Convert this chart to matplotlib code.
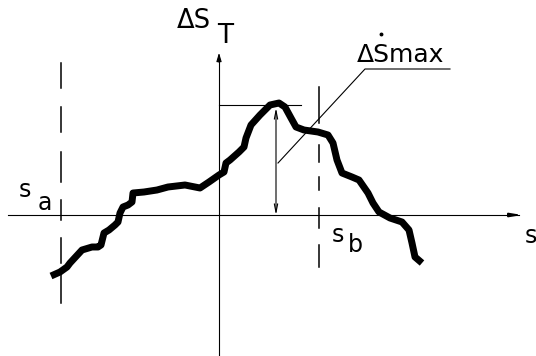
import matplotlib
matplotlib.use("Agg")
import matplotlib.pyplot as plt

# Hand-drawn deviation curve, s vs ΔS_T (origin at the axes crossing)
curve_s = [-168, -159, -152, -149, -137, -127, -121, -118, -115, -110, -104,
           -101, -99, -96, -91, -87, -86, -75, -62, -51, -34, -24, -19, -10,
           0, 5, 7, 11, 20, 25, 27, 32, 41, 51, 60, 66, 72, 77, 85, 99, 109,
           114, 118, 123, 133, 140, 149, 154, 160, 171, 183, 190, 193, 196,
           203]
curve_dS = [-61, -57, -52, -48, -35, -32, -32, -30, -18, -15, -10, -7, 2, 8,
            10, 13, 22, 23, 25, 28, 30, 28, 27, 33, 40, 43, 52, 55, 63, 68,
            77, 90, 100, 110, 112, 108, 97, 88, 85, 83, 80, 72, 55, 42, 38,
            35, 22, 12, 3, -3, -7, -15, -28, -42, -48]

peak_s, peak_dS = 57, 110          # location of ΔṠmax
sa_pos, sb_pos = -158, 100         # section boundaries s_a, s_b

# dash pieces of the boundary lines (upper end, lower end)
sa_dashes = [(152, 127), (108, 83), (63, 33), (15, -5), (-23, -48), (-58, -88)]
sb_dashes = [(128, 92), (70, 53), (38, 25), (7, -13), (-30, -52)]

fig = plt.figure(figsize=(5.36, 3.56), dpi=100)
ax = fig.add_axes([0, 0, 1, 1])
ax.set_xlim(-219, 317)
ax.set_ylim(-141, 215)
ax.axis("off")

ink = "black"
thin = 0.8

# coordinate axes
ax.plot([-211, 300], [0, 0], color=ink, lw=thin)
ax.annotate("", xy=(306, 0), xytext=(290, 0),
            arrowprops=dict(arrowstyle="-|>,head_length=0.6,head_width=0.1",
                            color=ink, lw=1.4))
ax.plot([0, 0], [-141, 156], color=ink, lw=thin)
ax.annotate("", xy=(0, 165), xytext=(0, 150),
            arrowprops=dict(arrowstyle="-|>,head_length=0.5,head_width=0.15",
                            color=ink, lw=thin))

# boundary lines s_a and s_b
for top, bottom in sa_dashes:
    ax.plot([sa_pos, sa_pos], [top, bottom], color=ink, lw=1.1)
for top, bottom in sb_dashes:
    ax.plot([sb_pos, sb_pos], [top, bottom], color=ink, lw=1.1)

# the curve
ax.plot(curve_s, curve_dS, color=ink, lw=5.0, solid_joinstyle="round",
        solid_capstyle="butt")

# maximum marker: horizontal level and double arrow
ax.plot([0, 82], [peak_dS, peak_dS], color=ink, lw=thin)
ax.annotate("", xy=(peak_s, 0), xytext=(peak_s, peak_dS - 3),
            arrowprops=dict(arrowstyle="<->,head_length=0.6,head_width=0.12",
                            color=ink, lw=thin, shrinkA=0, shrinkB=0))

# leader to the ΔṠmax label
ax.plot([59, 146, 231], [52, 146, 146], color=ink, lw=thin)

txt = dict(color=ink, family="DejaVu Sans", va="baseline")
ax.text(-42, 187, "ΔS", ha="left", fontsize=18.5, **txt)
ax.text(6, 172, "T", ha="center", fontsize=19, **txt)
ax.text(138, 153, "ΔSmax", ha="left", fontsize=18, **txt)
ax.plot([162], [181], marker="o", ms=1.8, color=ink)
ax.text(-194, 18, "s", ha="center", fontsize=17, **txt)
ax.text(-174, 5, "a", ha="center", fontsize=17, **txt)
ax.text(119, -27, "s", ha="center", fontsize=17, **txt)
ax.text(136, -37, "b", ha="center", fontsize=17, **txt)
ax.text(312, -28, "s", ha="center", fontsize=17, **txt)

fig.savefig("out.png", dpi=100)
